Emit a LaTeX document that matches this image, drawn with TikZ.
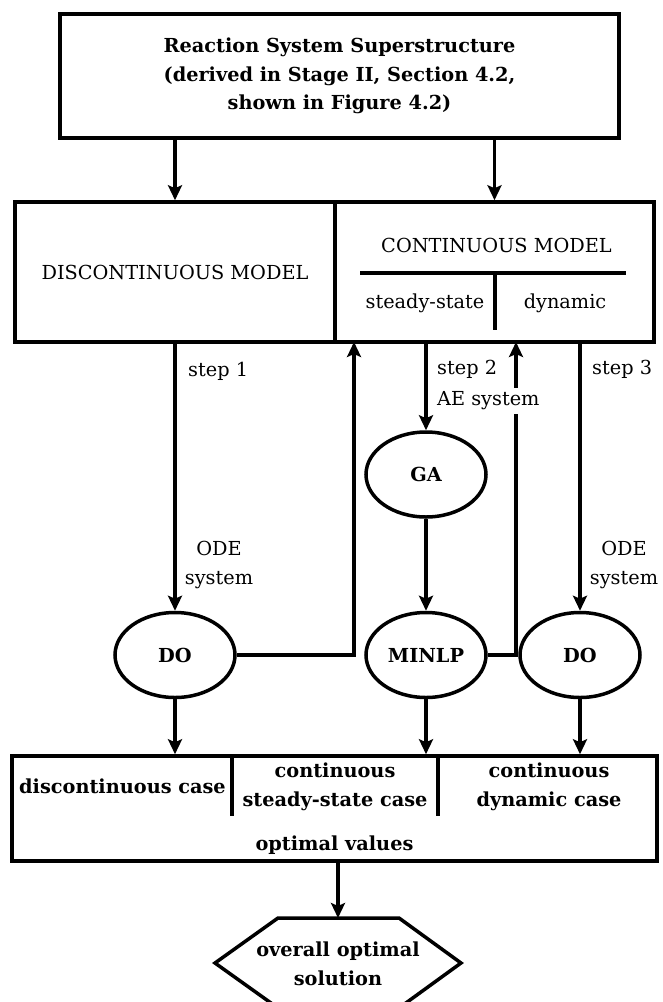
\documentclass[tikz,border=0pt]{standalone}
\usepackage{fontspec}
\setmainfont{DejaVu Serif}
\usepackage{tikz}
\usetikzlibrary{arrows.meta,shapes.geometric,positioning,calc}
\newcommand{\fs}{\fontsize{19.3pt}{28.5pt}\selectfont}
\tikzstyle{bloc}=[draw, line width=3.5pt, inner sep=0pt, align=center, font=\fs]
\tikzstyle{gras}=[font=\fs\bfseries]
\tikzstyle{txt}=[inner sep=0pt, align=center, font=\fs]
\tikzstyle{elli}=[draw, ellipse, line width=3.5pt, inner sep=0pt, minimum width=120pt, minimum height=85pt, font=\fs\bfseries]
\tikzstyle{fleche}=[-{Stealth[length=15pt,width=14pt,inset=3pt]}, line width=3.5pt]

\begin{document}
\begin{tikzpicture}[x=1pt, y=-1pt]

\useasboundingbox (0,0) rectangle (662,1002);

% superstructure
\node[bloc, gras, minimum width=559pt, minimum height=124pt] (sup) at (339.5,76) {Reaction System Superstructure\\(derived in Stage II, Section 4.2,\\shown in Figure 4.2)};

% models
\node[bloc, minimum width=320pt, minimum height=140pt] (disc) at (175,272) {DISCONTINUOUS MODEL};
\node[bloc, minimum width=319pt, minimum height=140pt] (cont) at (494.5,272) {};
\node[txt] (conttitle) at (496.5,245) {CONTINUOUS MODEL};
\node[txt] (steady) at (425,303) {steady-state};
\node[txt] (dyn) at (565,303) {dynamic};
\draw[line width=3.5pt] (360,273) -- (626,273);
\draw[line width=3.5pt] (495,273) -- (495,330);

% solvers
\node[elli] (do1) at (175,655) {DO};
\node[elli] (ga) at (426,474.5) {GA};
\node[elli] (minlp) at (426,655) {MINLP};
\node[elli] (do2) at (580,655) {DO};

% results
\node[bloc, minimum width=645pt, minimum height=105pt] (res) at (334.5,808.5) {};
\node[txt, gras] (cdisc) at (122.5,786) {discontinuous case};
\node[txt, gras] (csteady) at (335,787) {continuous\\steady-state case};
\node[txt, gras] (cdyn) at (549,787) {continuous\\dynamic case};
\node[txt, gras] (optval) at (334.5,845) {optimal values};
\draw[line width=3.5pt] (232,756) -- (232,816);
\draw[line width=3.5pt] (438,756) -- (438,816);

% solution
\draw[line width=3.5pt] (215,963) -- (278,918) -- (399,918) -- (461,963) -- (399,1008) -- (278,1008) -- cycle;
\node[txt, gras] (sol) at (338,964) {overall optimal\\solution};
\coordinate (soltop) at (338,918);

% fleches
\draw[fleche] (sup.south -| disc.north) -- (disc.north);
\draw[fleche] (sup.south -| cont.north) -- (cont.north);
\draw[fleche] (disc.south) -- (do1.north);
\coordinate (ret1) at (354,342);
\draw[fleche] (do1.east) -| (ret1);
\draw[fleche] (ga |- cont.south) -- (ga.north);
\draw[fleche] (ga.south) -- (minlp.north);
\coordinate (ret2) at (516,342);
\draw[fleche] (minlp.east) -| (ret2);
\draw[fleche] (do2 |- cont.south) -- (do2.north);
\draw[fleche] (do1.south) -- (do1 |- res.north);
\draw[fleche] (minlp.south) -- (minlp |- res.north);
\draw[fleche] (do2.south) -- (do2 |- res.north);
\draw[fleche] (soltop |- res.south) -- (soltop);

% labels
\node[txt, anchor=west] (s1) at (188,371) {step 1};
\node[txt] (ode1) at (219,565) {ODE\\system};
\node[txt, anchor=west] (s2) at (437,369) {step 2};
\node[txt, anchor=west, fill=white, inner sep=4pt] (ae) at (433,401) {AE system};
\node[txt, anchor=west] (s3) at (592,369) {step 3};
\node[txt] (ode2) at (624,565) {ODE\\system};

\end{tikzpicture}
\end{document}
